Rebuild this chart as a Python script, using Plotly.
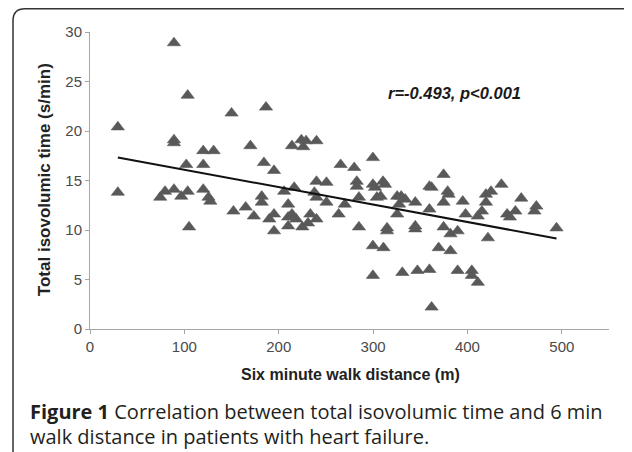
import numpy as np
import plotly.graph_objects as go

# Six minute walk distance (m)
walk_distance = [29.5, 29.5, 89, 89, 89, 103.5, 150, 186.5, 74.4, 79.5,
                 89, 96.7, 103.5, 105, 102, 120, 131, 120, 120, 125.6,
                 127.5, 152, 165, 173.6, 170, 184.3, 182, 182, 195, 190,
                 195, 195, 205.7, 210, 210, 210, 214, 216.4, 218.5, 214,
                 224, 226, 229, 240, 225, 231, 233.5, 237.8, 240, 240,
                 240, 250.6, 250.6, 263.5, 265.6, 270, 280, 282.7, 282.7, 285,
                 285, 299.8, 299.8, 302, 304, 299.8, 299.8, 310.5, 312.6, 308,
                 311, 314.8, 314.8, 325.5, 325.5, 327.6, 329.8, 334, 331, 347,
                 344.7, 344.7, 344.7, 359.7, 362, 359.7, 359.7, 362, 374.7, 374.7,
                 374.7, 379, 380, 369.5, 382, 382, 389.6, 389.6, 395, 398,
                 404.6, 404.6, 411, 411, 415.3, 419.6, 419.6, 421.7, 425, 436,
                 442, 445, 450.8, 457, 471, 473, 494.4]
# Total isovolumic time (s/min)
isovolumic_time = [20.4, 13.8, 28.9, 19.1, 18.8, 23.6, 21.8, 22.4, 13.3, 13.9,
                   14.1, 13.4, 13.9, 10.3, 16.6, 18.0, 18.0, 16.6, 14.1, 13.3,
                   12.9, 11.9, 12.3, 11.4, 18.5, 16.8, 13.4, 12.8, 16.0, 11.1,
                   11.6, 9.9, 13.9, 12.6, 11.3, 10.4, 11.6, 14.3, 11.1, 18.5,
                   19.1, 18.4, 19.0, 19.0, 10.3, 10.7, 11.6, 13.8, 13.3, 11.1,
                   14.9, 14.8, 12.8, 11.6, 16.6, 12.6, 16.3, 14.9, 14.4, 13.3,
                   10.3, 17.3, 14.6, 14.3, 13.3, 8.4, 5.4, 14.9, 14.6, 13.4,
                   8.2, 10.2, 9.9, 11.6, 13.4, 12.6, 13.4, 13.1, 5.7, 5.9,
                   12.8, 10.4, 10.1, 14.4, 14.3, 12.1, 6.0, 2.2, 15.6, 12.8,
                   10.3, 13.9, 13.6, 8.2, 7.9, 9.6, 9.9, 5.9, 12.9, 11.6,
                   5.9, 5.4, 4.7, 11.4, 11.9, 12.8, 13.6, 9.2, 13.9, 14.6,
                   11.6, 11.3, 11.9, 13.2, 11.9, 12.4, 10.2]

x_ticks = [0, 100, 200, 300, 400, 500]
y_ticks = [0, 5, 10, 15, 20, 25, 30]
x_title = "Six minute walk distance (m)"
y_title = "Total isovolumic time (s/min)"
stat_label = "r=-0.493, p<0.001"
caption_line1_bold = "Figure 1"
caption_line1 = " Correlation between total isovolumic time and 6 min"
caption_line2 = "walk distance in patients with heart failure."

xa = np.array(walk_distance)
ya = np.array(isovolumic_time)
slope, intercept = np.polyfit(xa, ya, 1)
fit_x = np.array([xa.min(), xa.max()])
fit_y = intercept + slope * fit_x

OFF = 8  # default page body margin
W, H = 624, 444
L, T = 90 - OFF, 31.7 - OFF
pw, ph = 519, 297.3
R, B = W - L - pw, H - T - ph

def px(x):  # page pixel -> paper x
    return (x - OFF - L) / pw

def py(y):  # page pixel -> paper y
    return (T + ph - (y - OFF)) / ph

fig = go.Figure()
fig.add_trace(go.Scatter(
    x=walk_distance, y=isovolumic_time, mode="markers",
    marker=dict(symbol="triangle-up", size=11.5, color="#595959", line=dict(width=0.6, color="#595959")),
    showlegend=False, cliponaxis=False))
fig.add_trace(go.Scatter(
    x=fit_x, y=fit_y, mode="lines", line=dict(color="#111111", width=2),
    showlegend=False))

axis_common = dict(showgrid=False, zeroline=False, showline=True, linecolor="#a6a6a6",
                   linewidth=1, ticks="outside", ticklen=4, tickcolor="#a6a6a6", automargin=False,
                   tickfont=dict(family="Liberation Sans, Arial", size=15, color="#4a4a4a"))
fig.update_xaxes(range=[0, 550], tickvals=x_ticks, **axis_common)
fig.update_yaxes(range=[0, 30], tickvals=y_ticks, **axis_common)

fig.add_annotation(x=px(350), y=py(375), xref="paper", yref="paper", showarrow=False,
                   xanchor="center", yanchor="middle",
                   text=f"<b>{x_title}</b>",
                   font=dict(family="Liberation Sans, Arial", size=16, color="#222222"))
fig.add_annotation(x=px(44), y=py(180), xref="paper", yref="paper", showarrow=False,
                   xanchor="center", yanchor="middle",
                   textangle=-90, text=f"<b>{y_title}</b>",
                   font=dict(family="Liberation Sans, Arial", size=17, color="#222222"))

# rounded frame
r = 12
x0, y0, x1, y1 = 13, 8.5, 680, 480
path = (f"M {px(x0)},{py(y0 + r)} Q {px(x0)},{py(y0)} {px(x0 + r)},{py(y0)} "
        f"L {px(x1)},{py(y0)} L {px(x1)},{py(y1)} L {px(x0)},{py(y1)} Z")
fig.add_shape(type="path", path=path, xref="paper", yref="paper",
              line=dict(color="#333333", width=1.5), layer="below")

fig.add_annotation(x=px(454), y=py(92.5), xref="paper", yref="paper",
                   xanchor="center", yanchor="middle",
                   text=f"<b><i>{stat_label}</i></b>",
                   showarrow=False, font=dict(family="Liberation Sans, Arial", size=16.5, color="#1a1a1a"))

cap_font = dict(family="Open Sans, Noto Sans", size=20, color="#231f20")
fig.add_annotation(x=px(28), y=py(412), xref="paper", yref="paper", xanchor="left", yanchor="middle",
                   align="left", showarrow=False,
                   text=f"<b>{caption_line1_bold}</b>{caption_line1}", font=cap_font)
fig.add_annotation(x=px(28), y=py(437), xref="paper", yref="paper", xanchor="left", yanchor="middle",
                   align="left", showarrow=False, text=caption_line2, font=cap_font)

fig.update_layout(width=W, height=H, margin=dict(l=L, r=R, t=T, b=B),
                  paper_bgcolor="white", plot_bgcolor="white")
fig.write_html("out.html")
